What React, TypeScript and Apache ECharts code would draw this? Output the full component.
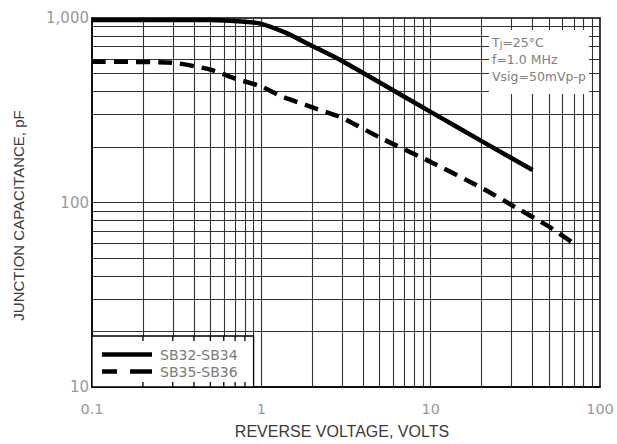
import React, { useEffect, useRef } from "react";
import * as echarts from "echarts";

// Reverse voltage (V) and junction capacitance (pF)
const sb32x: number[] = [0.1, 0.5, 0.8, 1, 1.4, 2, 3, 5, 10, 20, 40];
const sb32y: number[] = [975, 975, 955, 930, 830, 705, 585, 447, 310, 215, 150];
const sb35x: number[] = [0.1, 0.3, 0.5, 0.7, 1, 1.3, 2, 3, 5, 10, 20, 30, 50, 70];
const sb35y: number[] = [580, 572, 525, 470, 425, 378, 328, 288, 225, 166, 120, 97, 74, 60];

const seriesNames: string[] = ["SB32-SB34", "SB35-SB36"];
const gridX: number[] = [0.2, 0.3, 0.4, 0.5, 0.6, 0.7, 0.8, 0.9, 1, 2, 3, 4, 5, 6, 7, 8, 9, 10, 20, 30, 40, 50, 60, 70, 80, 90];
const gridY: number[] = [20, 30, 40, 50, 60, 70, 80, 90, 100, 200, 300, 400, 500, 600, 700, 800, 900];
const legendTickX: number[] = [0.2, 0.3, 0.4, 0.5, 0.6, 0.7, 0.8];
const notes: string[] = ["T{s|J}=25°C", "f=1.0 MHz", "Vsig=50mVp-p"];

const xTitle = "REVERSE VOLTAGE, VOLTS";
const yTitle = "JUNCTION CAPACITANCE, pF";

export default function App() {
  const ref = useRef<HTMLDivElement>(null);
  useEffect(() => {
    document.body.style.margin = "0";
    const chart = echarts.init(ref.current!, null, { renderer: "svg" });
    const labelFont = "DejaVu Sans";
    const option: any = {
      animation: false,
      grid: { left: 92, right: 17, top: 18, bottom: 54, show: true, borderColor: "#000", borderWidth: 1.5, backgroundColor: "#fff" },
      xAxis: {
        type: "log",
        logBase: 10,
        min: 0.1,
        max: 100,
        name: xTitle,
        nameLocation: "middle",
        nameGap: 36,
        nameTextStyle: { fontFamily: "Liberation Sans", fontSize: 16, color: "#3a3a3a", padding: [0, 8, 0, 0] },
        axisLine: { lineStyle: { color: "#000", width: 1.5 } },
        axisTick: { show: false },
        splitLine: { show: false },
        axisLabel: {
          margin: 14,
          color: "#9a9a9a",
          fontFamily: labelFont,
          fontSize: 14.5,
          formatter: (v: number) => String(Math.round(v * 1000) / 1000),
        },
      },
      yAxis: {
        type: "log",
        logBase: 10,
        min: 10,
        max: 1000,
        name: yTitle,
        nameLocation: "middle",
        nameGap: 66,
        nameTextStyle: { fontFamily: "Liberation Sans", fontSize: 15, color: "#3a3a3a", padding: [0, 26, 0, 0] },
        axisLine: { lineStyle: { color: "#000", width: 1.5 } },
        axisTick: { show: false },
        splitLine: { show: false },
        axisLabel: {
          margin: 3,
          color: "#9a9a9a",
          fontFamily: labelFont,
          fontSize: 15,
          padding: [8, 0, 0, 0],
          formatter: (v: number) => Math.round(v).toLocaleString("en-US"),
        },
      },
      legend: {
        data: [
          { name: seriesNames[0], icon: "path://M0,0H50V4.5H0Z" },
          { name: seriesNames[1], icon: "path://M0,0H15V4.5H0Z M28,0H50V4.5H28Z" },
        ],
        orient: "vertical",
        left: 102,
        top: 346,
        padding: 0,
        itemWidth: 50,
        itemHeight: 4.5,
        itemGap: 0,
        z: 20,
        itemStyle: { color: "#000", borderWidth: 0 },
        textStyle: { fontFamily: labelFont, fontSize: 14, lineHeight: 17, color: "#7a7a7a", padding: [0, 0, 0, 3] },
      },
      series: [
        {
          name: "grid",
          type: "line",
          data: [],
          z: 1,
          silent: true,
          markLine: {
            silent: true,
            symbol: ["none", "none"],
            label: { show: false },
            lineStyle: { type: "solid", color: "#333", width: 1.1 },
            emphasis: { disabled: true },
            data: [
              ...gridX.map((v) => ({ xAxis: v })),
              ...gridY.map((v) => ({ yAxis: v })),
            ],
          },
        },
        {
          name: seriesNames[0],
          type: "line",
          symbol: "none",
          smooth: 0.2,
          z: 5,
          lineStyle: { color: "#000", width: 4.5, type: "solid" },
          itemStyle: { color: "#000" },
          data: sb32x.map((x, i) => [x, sb32y[i]]),
        },
        {
          name: seriesNames[1],
          type: "line",
          symbol: "none",
          smooth: 0.2,
          z: 5,
          lineStyle: { color: "#000", width: 4.5, type: [14, 8] },
          itemStyle: { color: "#000" },
          data: sb35x.map((x, i) => [x, sb35y[i]]),
        },
      ],
    };
    chart.setOption(option);

    const px = (x: number, y: number) => chart.convertToPixel({ xAxisIndex: 0, yAxisIndex: 0 }, [x, y]) as number[];
    const [gl, gb] = px(0.1, 10);
    const [boxR] = px(0.9, 10);
    const boxTop = 336;
    const graphics: any[] = [
      {
        type: "rect",
        z: 10,
        shape: { x: gl, y: boxTop, width: boxR - gl, height: gb - boxTop },
        style: { fill: "#fff", stroke: "#000", lineWidth: 1.3 },
      },
      {
        type: "rect",
        z: 10,
        shape: { x: 489, y: 30, width: 100, height: 64 },
        style: { fill: "#fff" },
      },
    ];
    legendTickX.forEach((v) => {
      const [x] = px(v, 10);
      graphics.push({ type: "line", z: 11, shape: { x1: x, y1: boxTop, x2: x, y2: boxTop + 5 }, style: { stroke: "#000", lineWidth: 1.3 } });
      graphics.push({ type: "line", z: 11, shape: { x1: x, y1: gb - 5, x2: x, y2: gb }, style: { stroke: "#000", lineWidth: 1.3 } });
    });
    notes.forEach((t, i) => {
      graphics.push({
        type: "text",
        z: 11,
        x: 492,
        y: 42 + i * 17,
        style: {
          text: t,
          fontFamily: labelFont,
          fontSize: 12.5,
          fill: "#808080",
          verticalAlign: "middle",
          rich: { s: { fontFamily: labelFont, fontSize: 9, fill: "#808080", verticalAlign: "bottom", padding: [6, 0, 0, 0] } },
        },
      });
    });
    chart.setOption({ graphic: graphics });

    return () => chart.dispose();
  }, []);
  return <div ref={ref} style={{ width: 617, height: 444 }} />;
}
